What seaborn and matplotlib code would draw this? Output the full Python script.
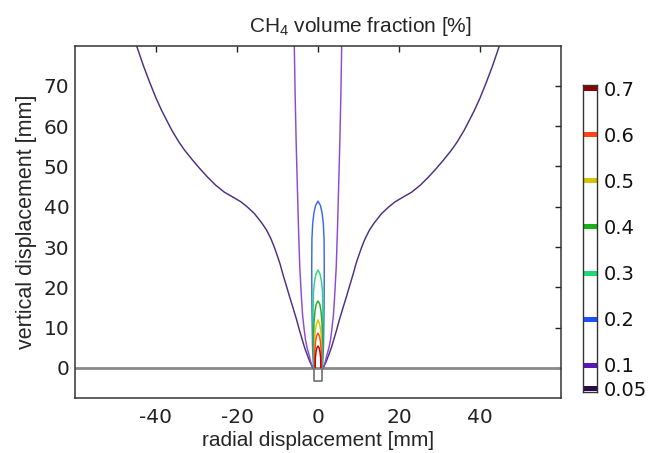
import numpy as np
import pandas as pd
import matplotlib
matplotlib.use("Agg")
import matplotlib.pyplot as plt
import seaborn as sns

# ---- data ----
levels = [0.05, 0.1, 0.2, 0.3, 0.4, 0.5, 0.6, 0.7]
level_labels = ["0.05", "0.1", "0.2", "0.3", "0.4", "0.5", "0.6", "0.7"]
line_colors = ["#4e2f80", "#8a4ad4", "#3a68f2", "#2fd47f", "#22ad22", "#d8c800", "#ff4a1a", "#c00000"]
bar_colors = ["#2a0a48", "#5a16b6", "#1f50ff", "#1fd978", "#19b019", "#d6c400", "#ff4516", "#8c0000"]

# contour profiles: heights [mm] and half-widths [mm] (left/right symmetric)
h_005 = [0, 1.5, 2.8, 5, 7, 9.4, 12, 15, 17.6, 20, 23, 25.9, 28, 30, 32, 34.2, 36, 38.3,
         39.9, 41.2, 42.4, 43.6, 45.4, 47.4, 49.5, 51.5, 54, 56, 59, 63.9, 67, 71, 75, 80, 82]
w_005 = [1.3, 2.0, 2.5, 3.3, 3.9, 4.6, 5.3, 6.2, 7.0, 7.7, 8.6, 9.4, 10.1, 10.8, 11.6, 12.7, 13.9, 15.7,
         17.4, 19.0, 21.0, 23.1, 25.3, 27.3, 29.2, 30.9, 32.9, 34.3, 36.1, 38.6, 40.0, 41.6, 43.1, 44.8, 45.5]
h_01 = [0, 1.5, 2.8, 5, 7, 9.4, 13, 17.6, 25, 34.2, 45, 56.4, 68, 80, 82]
w_01 = [1.3, 1.8, 2.1, 2.7, 3.1, 3.4, 3.8, 4.1, 4.5, 4.8, 5.1, 5.4, 5.65, 5.85, 5.9]
h_02 = [0, 5, 15, 25, 32, 36, 38.5, 40.3, 41.4]
w_02 = [1.1, 1.35, 1.5, 1.55, 1.5, 1.3, 1.0, 0.6, 0]
h_03 = [0, 6, 14, 19, 21.5, 23.3, 24.3]
w_03 = [1.0, 1.15, 1.2, 1.1, 0.85, 0.5, 0]
h_04 = [0, 6, 11, 14, 15.8, 16.6]
w_04 = [0.95, 1.05, 1.0, 0.75, 0.45, 0]
h_05 = [0, 5, 8.5, 10.6, 11.9]
w_05 = [0.85, 0.9, 0.75, 0.45, 0]
h_06 = [0, 4, 6.5, 7.9, 8.6]
w_06 = [0.8, 0.8, 0.6, 0.35, 0]
h_07 = [0, 2.5, 4.2, 5.0, 5.4]
w_07 = [0.7, 0.65, 0.45, 0.25, 0]

profiles = [(h_005, w_005), (h_01, w_01), (h_02, w_02), (h_03, w_03),
            (h_04, w_04), (h_05, w_05), (h_06, w_06), (h_07, w_07)]

nozzle_x = [-1.0, -1.0, 1.0, 1.0]
nozzle_y = [0.0, -3.3, -3.3, 0.0]
ground_x = [-60, 60]
ground_y = [0, 0]

xticks = [-40, -20, 0, 20, 40]
yticks = [0, 10, 20, 30, 40, 50, 60, 70]

# ---- figure ----
sns.set_style("white")
plt.rcParams["font.family"] = ["DejaVu Sans"]
plt.rcParams["axes.unicode_minus"] = False
plt.rcParams["mathtext.fontset"] = "custom"
plt.rcParams["mathtext.rm"] = "Liberation Sans"
plt.rcParams["mathtext.it"] = "Liberation Sans"
plt.rcParams["mathtext.default"] = "rm"

W, H = 649, 453
fig = plt.figure(figsize=(W / 100, H / 100), dpi=100)
ax = fig.add_axes([75 / W, 1 - 398 / H, (561 - 75) / W, (398 - 45.7) / H])

rows = []
for lev, (hh, ww) in zip(levels, profiles):
    hh = np.asarray(hh, float)
    ww = np.asarray(ww, float)
    xs = np.concatenate([-ww, ww[::-1]])
    ys = np.concatenate([hh, hh[::-1]])
    for i, (x, y) in enumerate(zip(xs, ys)):
        rows.append({"level": lev, "order": i, "x": x, "y": y})
df = pd.DataFrame(rows)

sns.lineplot(x=ground_x, y=ground_y, ax=ax, color="#8a8a8a", lw=2.0, sort=False, estimator=None)
sns.lineplot(x=nozzle_x, y=nozzle_y, ax=ax, color="#707070", lw=1.2, sort=False, estimator=None)

for lev, col in zip(levels, line_colors):
    d = df[df.level == lev]
    sns.lineplot(data=d, x="x", y="y", ax=ax, color=col, lw=1.05, sort=False, estimator=None)

ax.set_xlim(-60, 60)
ax.set_ylim(-7.5, 80)
ax.set_xticks(xticks)
ax.set_yticks(yticks)
ax.tick_params(direction="in", length=4.5, width=1, colors="#222222",
               top=True, right=True, labelsize=14.5)
ax.tick_params(axis="x", pad=7)
ax.tick_params(axis="y", pad=4)
for sp in ax.spines.values():
    sp.set_color("#333333")
    sp.set_linewidth(1.1)
ax.set_xlabel("radial displacement [mm]", family="Liberation Sans", fontsize=15, labelpad=3)
ax.set_ylabel("vertical displacement [mm]", family="Liberation Sans", fontsize=15.5, labelpad=5)

fig.text(360 / W, 1 - 32 / H, "CH$_4$ volume fraction [%]", family="Liberation Sans",
         fontsize=15, ha="center", va="baseline")

# ---- colour legend ----
cax = fig.add_axes([582.7 / W, 1 - 392 / H, (597 - 582.7) / W, (392 - 85) / H])
cax.set_xlim(0, 1)
cax.set_ylim(0.0415, 0.7065)
for lev, col in zip(levels, bar_colors):
    sns.lineplot(x=[0, 1], y=[lev, lev], ax=cax, color=col, lw=3.6, sort=False, estimator=None)
cax.set_xticks([])
cax.yaxis.tick_right()
cax.set_yticks(levels)
cax.set_yticklabels(level_labels)
cax.tick_params(axis="y", length=0, pad=5, labelsize=14, colors="#111111")
for sp in cax.spines.values():
    sp.set_color("#333333")
    sp.set_linewidth(1.0)

fig.savefig("out.png", dpi=100)
